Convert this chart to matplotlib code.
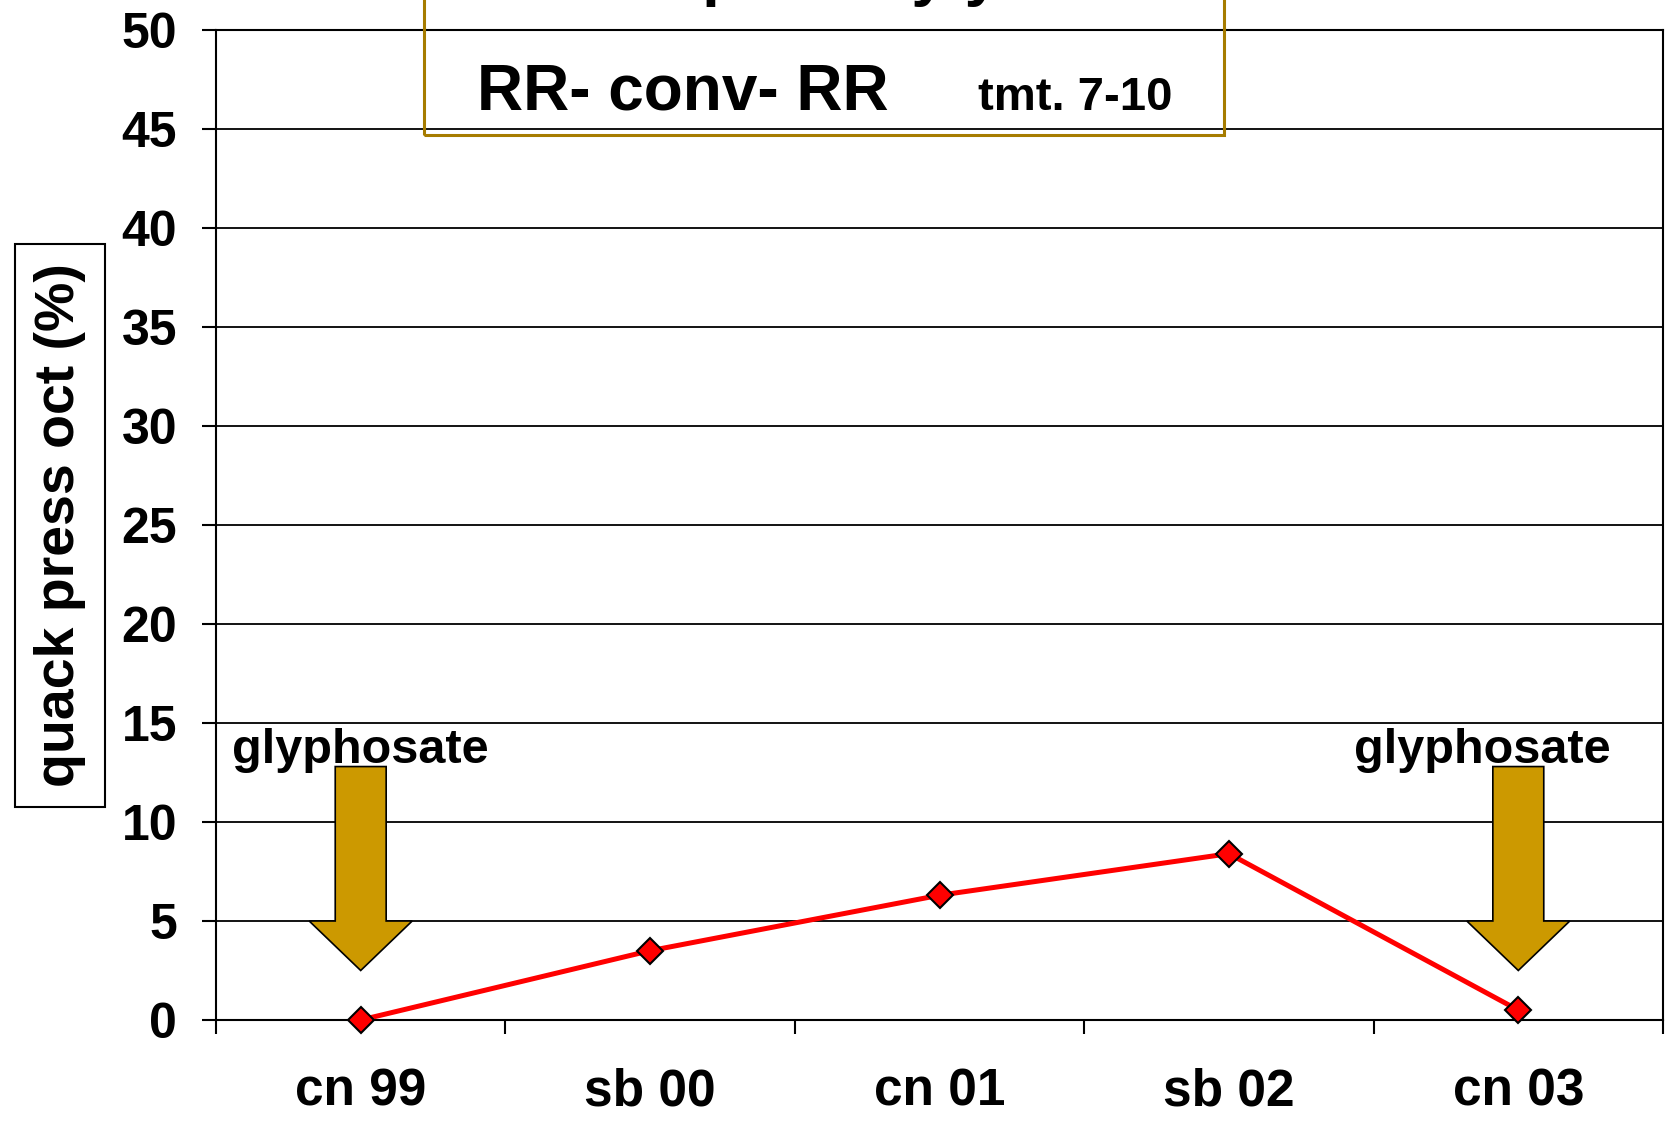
import matplotlib
matplotlib.use('Agg')
from matplotlib import pyplot as plt
from matplotlib.patches import Polygon, Rectangle

plt.rcParams['font.family'] = ['Liberation Sans', 'DejaVu Sans']
plt.rcParams['font.weight'] = 'bold'

# datos
anios = ['cn 99', 'sb 00', 'cn 01', 'sb 02', 'cn 03']
presion = [0.0, 3.5, 6.3, 8.4, 0.5]
marcas_y = [0, 5, 10, 15, 20, 25, 30, 35, 40, 45, 50]
glifosato = [0, 4]          # años con aplicacion de glyphosate
desplaz_texto = [0.0, -0.126]

fig = plt.figure(figsize=(16.69, 11.26), dpi=100)
ax = fig.add_axes([216 / 1669, 1 - 1020 / 1126, 1447 / 1669, 990 / 1126])

x = list(range(len(anios)))
ax.plot(x, presion, color='red', lw=3.6, marker='D', ms=13.5, mfc='red',
        mec='black', mew=1.5, zorder=5, clip_on=False)

# flechas de glyphosate
for i, dx in zip(glifosato, desplaz_texto):
    flecha = Polygon([(i - 0.088, 12.8), (i + 0.088, 12.8), (i + 0.088, 5),
                      (i + 0.178, 5), (i, 2.5), (i - 0.178, 5), (i - 0.088, 5)],
                     closed=True, fc='#CC9900', ec='black', lw=1.2, zorder=4)
    ax.add_patch(flecha)
    ax.text(i + dx, 13.0, 'glyphosate', ha='center', va='baseline',
            fontsize=35, fontweight='bold', zorder=6)

ax.set_xlim(-0.5, 4.5)
ax.set_ylim(0, 50)
ax.set_yticks(marcas_y)
ax.set_yticklabels([str(v) for v in marcas_y], fontweight='bold')
ax.yaxis.grid(True, color='black', lw=1.3)
ax.set_axisbelow(True)

ax.set_xticks(x)
ax.set_xticklabels(anios, fontweight='bold')
ax.set_xticks([v - 0.5 for v in x] + [x[-1] + 0.5], minor=True)
ax.tick_params(axis='x', which='major', length=0, pad=34, labelsize=37)
ax.tick_params(axis='x', which='minor', length=10, width=1.5)
ax.tick_params(axis='y', length=10, width=1.5, pad=18, labelsize=36)

for lado in ['left', 'right', 'top', 'bottom']:
    ax.spines[lado].set_color('black')
    ax.spines[lado].set_linewidth(1.5)

# etiqueta del eje y en un recuadro
fig.text(60 / 1669, 1 - 525.5 / 1126, 'quack press oct (%)', rotation=90,
         ha='center', va='center', fontsize=40, fontweight='bold',
         bbox=dict(boxstyle='square,pad=0.35', fc='white', ec='black', lw=1.5))

# recuadro del titulo (cortado por arriba)
fig.add_artist(Rectangle((424 / 1669, 1 - 135 / 1126), 800 / 1669, 0.2,
                         transform=fig.transFigure, fill=False,
                         ec='#A67C00', lw=2.2, clip_on=False))
fig.text(824 / 1669, 1 + 6.4 / 1126, 'Trial plots by year', ha='center',
         va='baseline', fontsize=46, fontweight='bold')
fig.text(477 / 1669, 1 - 109 / 1126, 'RR- conv- RR', va='baseline',
         fontsize=46, fontweight='bold')
fig.text(978 / 1669, 1 - 110 / 1126, 'tmt. 7-10', va='baseline',
         fontsize=34, fontweight='bold')

fig.savefig('out.png', dpi=100)
